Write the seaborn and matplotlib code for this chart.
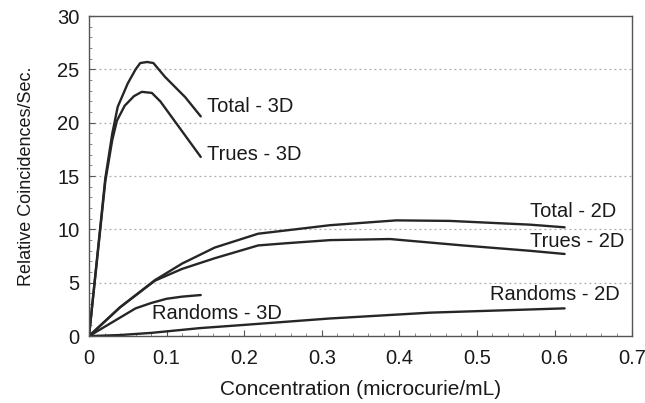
import matplotlib
matplotlib.use("Agg")
import matplotlib.pyplot as plt
from matplotlib.ticker import MultipleLocator
import seaborn as sns
import pandas as pd

# Data
total3d_x = [0, 0.021, 0.030, 0.037, 0.050, 0.060, 0.066, 0.075, 0.083, 0.098, 0.124, 0.144]
total3d_y = [0, 14.8, 19.0, 21.5, 23.7, 25.0, 25.6, 25.7, 25.6, 24.3, 22.4, 20.6]
trues3d_x = [0, 0.021, 0.030, 0.036, 0.046, 0.058, 0.068, 0.081, 0.092, 0.107, 0.124, 0.144]
trues3d_y = [0, 14.5, 18.4, 20.2, 21.6, 22.5, 22.9, 22.8, 22.0, 20.5, 18.8, 16.8]
randoms3d_x = [0, 0.03, 0.06, 0.08, 0.10, 0.12, 0.144]
randoms3d_y = [0, 1.3, 2.6, 3.1, 3.5, 3.7, 3.85]
total2d_x = [0, 0.04, 0.085, 0.12, 0.162, 0.218, 0.253, 0.311, 0.396, 0.465, 0.568, 0.613]
total2d_y = [0, 2.7, 5.25, 6.8, 8.3, 9.6, 9.9, 10.4, 10.85, 10.8, 10.45, 10.2]
trues2d_x = [0, 0.04, 0.085, 0.12, 0.162, 0.218, 0.253, 0.311, 0.388, 0.482, 0.568, 0.613]
trues2d_y = [0, 2.7, 5.2, 6.3, 7.3, 8.5, 8.7, 9.0, 9.1, 8.5, 8.0, 7.7]
randoms2d_x = [0, 0.04, 0.08, 0.143, 0.2, 0.31, 0.44, 0.613]
randoms2d_y = [0, 0.1, 0.3, 0.75, 1.05, 1.65, 2.2, 2.6]

series = {
    "Total - 3D": (total3d_x, total3d_y),
    "Trues - 3D": (trues3d_x, trues3d_y),
    "Randoms - 3D": (randoms3d_x, randoms3d_y),
    "Total - 2D": (total2d_x, total2d_y),
    "Trues - 2D": (trues2d_x, trues2d_y),
    "Randoms - 2D": (randoms2d_x, randoms2d_y),
}
rows = []
for name, (xs, ys) in series.items():
    for x, y in zip(xs, ys):
        rows.append({"series": name, "x": x, "y": y})
df = pd.DataFrame(rows)

# Label anchor positions (data coords)
label_pos = {
    "Total - 3D": (0.152, 21.5),
    "Trues - 3D": (0.152, 17.0),
    "Randoms - 3D": (0.081, 2.15),
    "Total - 2D": (0.568, 11.7),
    "Trues - 2D": (0.568, 8.9),
    "Randoms - 2D": (0.517, 3.9),
}

sns.set_theme(style="white")
plt.rcParams['font.family'] = ['Liberation Sans', 'DejaVu Sans']

fig = plt.figure(figsize=(6.45, 4.03), dpi=100)
ax = fig.add_axes([0.138, 0.166, 0.842, 0.794])

sns.lineplot(data=df, x="x", y="y", units="series", estimator=None, sort=False,
             color="#262626", linewidth=1.7, ax=ax, legend=False)

for name, (lx, ly) in label_pos.items():
    ax.text(lx, ly, name, fontsize=14.5, color="#1a1a1a", va="center", ha="left")

ax.set_xlim(0, 0.7)
ax.set_ylim(0, 30)
ax.set_xticks([0, 0.1, 0.2, 0.3, 0.4, 0.5, 0.6, 0.7])
ax.set_xticklabels(["0", "0.1", "0.2", "0.3", "0.4", "0.5", "0.6", "0.7"])
ax.xaxis.set_minor_locator(MultipleLocator(0.02))
ax.yaxis.set_major_locator(MultipleLocator(5))
ax.yaxis.set_minor_locator(MultipleLocator(1))

ax.tick_params(axis="x", which="major", pad=9)
ax.tick_params(axis="y", which="major", pad=7)
ax.tick_params(axis="both", which="major", direction="in", length=4, width=0.8,
               labelsize=14.5, colors="#555555", labelcolor="#1a1a1a")
ax.tick_params(axis="both", which="minor", direction="in", length=2, width=0.6, colors="#777777")
ax.tick_params(bottom=True, left=True, which="both")

for y in [5, 10, 15, 20, 25]:
    ax.axhline(y, color="#aaaaaa", linestyle=(0, (1.5, 2.5)), linewidth=0.9, zorder=0)

for s in ax.spines.values():
    s.set_color("#555555")
    s.set_linewidth(1.0)

ax.set_xlabel("Concentration (microcurie/mL)", fontsize=15, color="#1a1a1a", labelpad=9)
ax.set_ylabel("Relative Coincidences/Sec.", fontsize=13, color="#1a1a1a", labelpad=16)

fig.savefig("out.png", dpi=100)
